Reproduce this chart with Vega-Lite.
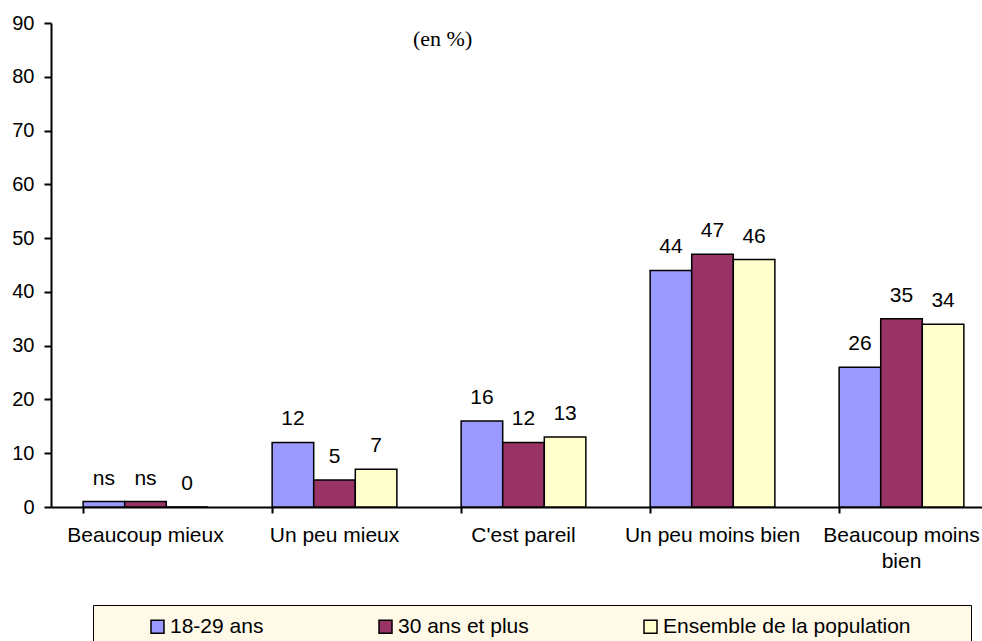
{
  "$schema": "https://vega.github.io/schema/vega-lite/v6.json",
  "width": 945,
  "height": 484,
  "autosize": {"type": "none"},
  "padding": {"left": 51, "top": 23, "right": 0, "bottom": 134},
  "background": "white",
  "title": {
    "text": "(en %)",
    "font": "Liberation Serif",
    "fontSize": 22,
    "fontWeight": "normal",
    "color": "black",
    "anchor": "start",
    "frame": "group",
    "dx": 362,
    "dy": 42
  },
  "data": {
    "values": [
      {"cat": "Beaucoup mieux", "grp": "18-29 ans", "value": 1, "label": "ns"},
      {"cat": "Beaucoup mieux", "grp": "30 ans et plus", "value": 1, "label": "ns"},
      {"cat": "Beaucoup mieux", "grp": "Ensemble de la population", "value": 0, "label": "0"},
      {"cat": "Un peu mieux", "grp": "18-29 ans", "value": 12, "label": "12"},
      {"cat": "Un peu mieux", "grp": "30 ans et plus", "value": 5, "label": "5"},
      {"cat": "Un peu mieux", "grp": "Ensemble de la population", "value": 7, "label": "7"},
      {"cat": "C'est pareil", "grp": "18-29 ans", "value": 16, "label": "16"},
      {"cat": "C'est pareil", "grp": "30 ans et plus", "value": 12, "label": "12"},
      {"cat": "C'est pareil", "grp": "Ensemble de la population", "value": 13, "label": "13"},
      {"cat": "Un peu moins bien", "grp": "18-29 ans", "value": 44, "label": "44"},
      {"cat": "Un peu moins bien", "grp": "30 ans et plus", "value": 47, "label": "47"},
      {"cat": "Un peu moins bien", "grp": "Ensemble de la population", "value": 46, "label": "46"},
      {"cat": "Beaucoup moins bien", "grp": "18-29 ans", "value": 26, "label": "26"},
      {"cat": "Beaucoup moins bien", "grp": "30 ans et plus", "value": 35, "label": "35"},
      {"cat": "Beaucoup moins bien", "grp": "Ensemble de la population", "value": 34, "label": "34"}
    ]
  },
  "encoding": {
    "x": {
      "field": "cat",
      "type": "nominal",
      "sort": ["Beaucoup mieux", "Un peu mieux", "C'est pareil", "Un peu moins bien", "Beaucoup moins bien"],
      "scale": {"paddingInner": 0.34, "paddingOuter": 0.17},
      "axis": {
        "title": null,
        "labelAngle": 0,
        "labelFont": "Liberation Sans",
        "labelFontSize": 21,
        "labelColor": "black",
        "labelPadding": 11,
        "labelLineHeight": 26,
        "labelLimit": 300,
        "labelExpr": "datum.label == 'Beaucoup moins bien' ? ['Beaucoup moins', 'bien'] : datum.label",
        "bandPosition": 0,
        "tickSize": 6,
        "tickWidth": 2,
        "tickColor": "black",
        "domainColor": "black",
        "domainWidth": 2,
        "grid": false
      }
    },
    "xOffset": {
      "field": "grp",
      "type": "nominal",
      "sort": ["18-29 ans", "30 ans et plus", "Ensemble de la population"],
      "scale": {"paddingInner": 0, "paddingOuter": 0}
    },
    "y": {
      "field": "value",
      "type": "quantitative",
      "scale": {"domain": [0, 90], "nice": false},
      "axis": {
        "title": null,
        "values": [0, 10, 20, 30, 40, 50, 60, 70, 80, 90],
        "labelFont": "Liberation Sans",
        "labelFontSize": 20,
        "labelColor": "black",
        "labelPadding": 10,
        "tickSize": 7,
        "tickWidth": 2,
        "tickColor": "black",
        "domainColor": "black",
        "domainWidth": 2,
        "grid": false
      }
    }
  },
  "layer": [
    {
      "mark": {"type": "bar", "stroke": "black", "strokeWidth": 1.5},
      "encoding": {
        "color": {
          "field": "grp",
          "type": "nominal",
          "sort": ["18-29 ans", "30 ans et plus", "Ensemble de la population"],
          "scale": {
            "domain": ["18-29 ans", "30 ans et plus", "Ensemble de la population"],
            "range": ["#9999FF", "#993366", "#FFFFCC"]
          },
          "legend": {
            "title": "\u00a0",
            "titleOrient": "right",
            "titlePadding": 49,
            "titleFontSize": 21,
            "orient": "none",
            "legendX": 42,
            "legendY": 582,
            "direction": "horizontal",
            "fillColor": "#FFF9E8",
            "strokeColor": "black",
            "padding": 11,
            "symbolOffset": 43,
            "symbolType": "square",
            "symbolSize": 169,
            "symbolStrokeColor": "black",
            "symbolStrokeWidth": 1.5,
            "symbolOpacity": 1,
            "labelFont": "Liberation Sans",
            "labelFontSize": 21,
            "labelColor": "black",
            "labelOffset": 2,
            "labelLimit": 400,
            "columnPadding": 68
          }
        }
      }
    },
    {
      "mark": {
        "type": "text",
        "font": "Liberation Sans",
        "fontSize": 21,
        "color": "black",
        "baseline": "alphabetic",
        "dy": -17
      },
      "encoding": {
        "text": {"field": "label"}
      }
    }
  ],
  "config": {
    "view": {"stroke": null}
  }
}
